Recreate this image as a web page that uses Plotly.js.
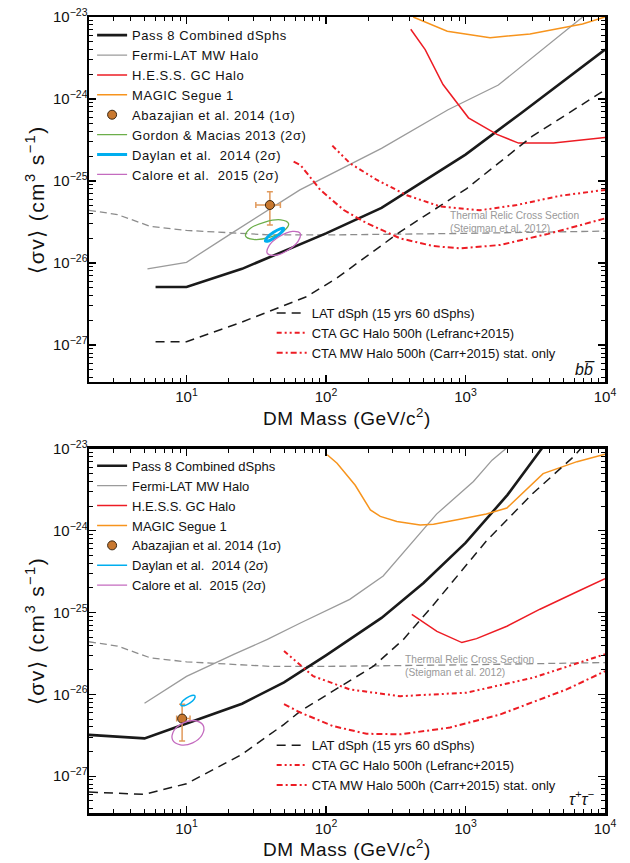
<!DOCTYPE html>
<html><head><meta charset="utf-8">
<script src="https://cdn.plot.ly/plotly-3.0.1.min.js"></script>
<style>
html,body{margin:0;padding:0;background:#fff;}
.legendtext{letter-spacing:0.55px;}
.xtitle,.x2title{letter-spacing:0.6px;}
.ytitle,.y2title{letter-spacing:1.4px;}
</style>
</head><body><div id="chart" style="width:630px;height:863px;"></div>
<script>
// ---------- axis tick labels ----------
const xTickVals = [10, 100, 1000, 10000];
const xTickText = ['10<sup>1</sup>', '10<sup>2</sup>', '10<sup>3</sup>', '10<sup>4</sup>'];
const yTickVals = [1e-27, 1e-26, 1e-25, 1e-24, 1e-23];
const yTickText = ['10<sup>−27</sup>', '10<sup>−26</sup>', '10<sup>−25</sup>', '10<sup>−24</sup>', '10<sup>−23</sup>'];

// ---------- thermal relic (both panels) ----------
const relicMass = [2, 3.2, 5.5, 10, 40, 100, 1000, 10000];
const relicSv   = [4.4e-26, 3.9e-26, 2.8e-26, 2.5e-26, 2.2e-26, 2.2e-26, 2.3e-26, 2.45e-26];

// ---------- b bbar panel ----------
const bbPass8Mass = [6, 10, 25, 50, 100, 250, 500, 1000, 2500, 5000, 10000];
const bbPass8Sv   = [5.1e-27, 5.1e-27, 8.5e-27, 1.4e-26, 2.3e-26, 4.7e-26, 1.0e-25, 2.1e-25, 6.7e-25, 1.65e-24, 4.0e-24];
const bbMWMass = [5.25, 10, 21, 65, 250, 750, 1720, 6900, 10000];
const bbMWSv   = [8.5e-27, 1.02e-26, 2.3e-26, 7.8e-26, 2.5e-25, 7.4e-25, 1.48e-24, 1.0e-23, 1.66e-23];
const bbHessMass = [405, 514, 690, 1050, 1680, 2400, 4270, 10000];
const bbHessSv   = [7.1e-24, 4.0e-24, 1.5e-24, 5.9e-25, 3.7e-25, 2.9e-25, 2.9e-25, 3.4e-25];
const bbMagicMass = [422, 740, 1500, 2900, 6900, 10000];
const bbMagicSv   = [1.0e-23, 6.7e-24, 5.6e-24, 6.2e-24, 8.2e-24, 1.0e-23];
const bbLatMass = [6, 10, 24, 73, 120, 340, 1020, 3000, 10000];
const bbLatSv   = [1.1e-27, 1.1e-27, 1.86e-27, 3.9e-27, 6.6e-27, 2.4e-26, 8.1e-26, 3.5e-25, 1.29e-24];
const bbCtaGCMass = [111, 149, 232, 380, 658, 1270, 2330, 4750, 10000];
const bbCtaGCSv   = [2.7e-25, 1.64e-25, 1.03e-25, 6.7e-26, 4.9e-26, 4.4e-26, 5.1e-26, 6.6e-26, 7.8e-26];
const bbCtaMWMass = [58.6, 65.5, 91, 134, 197, 340, 589, 914, 1770, 4040, 10000];
const bbCtaMWSv   = [1.72e-25, 1.57e-25, 7.8e-26, 4.43e-26, 3.05e-26, 2.0e-26, 1.61e-26, 1.51e-26, 1.66e-26, 2.3e-26, 3.5e-26];
const bbAbaMass = [39.6], bbAbaSv = [5.1e-26];
const bbAbaMassErrMinus = [8.2], bbAbaMassErrPlus = [7.5];
const bbAbaSvErrMinus = [2.2e-26], bbAbaSvErrPlus = [2.3e-26];
const bbGordonMass = [53.9, 50.0, 39.2, 30.2, 26.5, 28.6, 36.5, 47.4, 53.9];
const bbGordonSv   = [3.03e-26, 2.47e-26, 2.05e-26, 1.94e-26, 2.14e-26, 2.63e-26, 3.16e-26, 3.36e-26, 3.03e-26];
const bbDaylanMass = [49.8, 48.4, 43.8, 39.1, 36.8, 37.8, 41.8, 46.9, 49.8];
const bbDaylanSv   = [2.64e-26, 2.41e-26, 2.09e-26, 1.87e-26, 1.85e-26, 2.04e-26, 2.35e-26, 2.61e-26, 2.64e-26];
const bbCaloreMass = [65.3, 63.2, 53.2, 43.0, 37.9, 39.1, 46.4, 57.5, 65.3];
const bbCaloreSv   = [2.30e-26, 1.85e-26, 1.43e-26, 1.24e-26, 1.32e-26, 1.63e-26, 2.11e-26, 2.43e-26, 2.30e-26];

// ---------- tau tau panel ----------
const ttPass8Mass = [2, 5, 10, 25, 50, 100, 250, 500, 1000, 2000, 3500, 5000];
const ttPass8Sv   = [3.2e-27, 2.9e-27, 4.4e-27, 7.7e-27, 1.4e-26, 3.0e-26, 8.6e-26, 2.3e-25, 7.1e-25, 2.75e-24, 1.0e-23, 2.2e-23];
const ttMWMass = [5, 10, 22, 38, 65, 99, 148, 257, 620, 1140, 1550, 2000];
const ttMWSv   = [7.8e-27, 1.66e-26, 3.1e-26, 4.7e-26, 7.4e-26, 1.04e-25, 1.45e-25, 2.8e-25, 1.6e-24, 4.0e-24, 7.3e-24, 1.05e-23];
const ttHessMass = [412, 624, 942, 1200, 1980, 3420, 6300, 10000];
const ttHessSv   = [9.5e-26, 5.9e-26, 4.3e-26, 4.8e-26, 6.8e-26, 1.1e-25, 1.8e-25, 2.6e-25];
const ttMagicMass = [102, 120, 162, 181, 208, 245, 322, 473, 590, 910, 1410, 1980, 3600, 6300, 10000];
const ttMagicSv   = [8.5e-24, 6.7e-24, 3.6e-24, 2.6e-24, 1.8e-24, 1.5e-24, 1.3e-24, 1.18e-24, 1.2e-24, 1.38e-24, 1.6e-24, 1.9e-24, 5.0e-24, 7.0e-24, 8.6e-24];
const ttLatMass = [2, 5, 10, 25, 50, 65.5, 219, 359, 590, 1410, 3060, 5930, 7000];
const ttLatSv   = [6.4e-28, 6.0e-28, 8.1e-28, 1.85e-27, 4.3e-27, 6.25e-27, 2.21e-26, 4.7e-26, 1.25e-25, 7.5e-25, 2.9e-24, 8.0e-24, 1.1e-23];
const ttCtaGCMass = [50, 81, 148, 340, 1020, 3060, 10000];
const ttCtaGCSv   = [3.4e-26, 1.67e-26, 1.15e-26, 9.5e-27, 1.05e-26, 1.6e-26, 3.1e-26];
const ttCtaMWMass = [50, 65.5, 112, 195, 340, 775, 1780, 5300, 10000];
const ttCtaMWSv   = [7.6e-27, 6.0e-27, 4.1e-27, 3.3e-27, 3.25e-27, 3.93e-27, 5.7e-27, 1.15e-26, 1.92e-26];
const ttAbaMass = [9.3], ttAbaSv = [5.06e-27];
const ttAbaMassErrMinus = [0.8], ttAbaMassErrPlus = [1.3];
const ttAbaSvErrMinus = [2.36e-27], ttAbaSvErrPlus = [2.54e-27];
const ttDaylanMass = [11.5, 11.35, 10.54, 9.63, 9.12, 9.26, 9.97, 10.9, 11.5];
const ttDaylanSv   = [9.6e-27, 8.77e-27, 7.84e-27, 7.28e-27, 7.36e-27, 8.04e-27, 9.0e-27, 9.7e-27, 9.6e-27];
const ttCaloreMass = [13.2, 12.95, 11.08, 9.04, 7.95, 8.11, 9.5, 11.62, 13.2];
const ttCaloreSv   = [4.15e-27, 3.21e-27, 2.56e-27, 2.42e-27, 2.77e-27, 3.59e-27, 4.49e-27, 4.76e-27, 4.15e-27];

// ---------- styles ----------
const C = {
  black:'#1a1a1a', gray:'#9b9b9b', red:'#ed1c24', orange:'#f7941d',
  green:'#6cae4a', cyan:'#00aeef', purple:'#c46bbf', relic:'#8c8c8c',
  abaFill:'#c8782f', abaErr:'#e19a5c'
};
const NAMES = {
  pass8:'Pass 8 Combined dSphs', mw:'Fermi-LAT MW Halo', hess:'H.E.S.S. GC Halo',
  magic:'MAGIC Segue 1', aba:'Abazajian et al. 2014 (1σ)', gordon:'Gordon &amp; Macias 2013 (2σ)',
  daylan:'Daylan et al.\u00a0 2014 (2σ)', calore:'Calore et al.\u00a0 2015 (2σ)',
  lat:'LAT dSph (15 yrs 60 dSphs)', ctagc:'CTA GC Halo 500h (Lefranc+2015)',
  ctamw:'CTA MW Halo 500h (Carr+2015) stat. only'
};
const GC_DASH = '5px,3px,2px,3px,2px,3px';
const MW_DASH = '6px,3px,2px,3px';

function line(x, y, name, color, width, dash, xa, ya, leg, show) {
  return {
    type:'scatter', mode:'lines', x:x, y:y, name:name,
    line:{color:color, width:width, dash:dash || 'solid'},
    xaxis:xa, yaxis:ya, legend:leg, showlegend:show, hoverinfo:'skip'
  };
}
function aba(x, y, xm, xp, ym, yp, xa, ya, leg) {
  return {
    type:'scatter', mode:'markers', x:x, y:y, name:NAMES.aba, xaxis:xa, yaxis:ya, legend:leg,
    marker:{size:9, color:C.abaFill, line:{color:'#3b2712', width:1}},
    error_x:{type:'data', symmetric:false, array:xp, arrayminus:xm, color:C.abaErr, thickness:1.5, width:3},
    error_y:{type:'data', symmetric:false, array:yp, arrayminus:ym, color:C.abaErr, thickness:1.5, width:3},
    hoverinfo:'skip'
  };
}
function ell(x, y, name, color, width, xa, ya, leg, show) {
  const t = line(x, y, name, color, width, 'solid', xa, ya, leg, show);
  t.line.shape = 'spline'; t.line.smoothing = 1.2;
  return t;
}

const data = [
  // top panel (b bbar)
  line(relicMass, relicSv, 'relic', C.relic, 1.3, '7px,4px', 'x', 'y', 'legend', false),
  line(bbPass8Mass, bbPass8Sv, NAMES.pass8, C.black, 2.6, 'solid', 'x', 'y', 'legend', true),
  line(bbMWMass, bbMWSv, NAMES.mw, C.gray, 1.3, 'solid', 'x', 'y', 'legend', true),
  line(bbHessMass, bbHessSv, NAMES.hess, C.red, 1.5, 'solid', 'x', 'y', 'legend', true),
  line(bbMagicMass, bbMagicSv, NAMES.magic, C.orange, 1.5, 'solid', 'x', 'y', 'legend', true),
  aba(bbAbaMass, bbAbaSv, bbAbaMassErrMinus, bbAbaMassErrPlus, bbAbaSvErrMinus, bbAbaSvErrPlus, 'x', 'y', 'legend'),
  ell(bbGordonMass, bbGordonSv, NAMES.gordon, C.green, 1.3, 'x', 'y', 'legend', true),
  ell(bbDaylanMass, bbDaylanSv, NAMES.daylan, C.cyan, 3, 'x', 'y', 'legend', true),
  ell(bbCaloreMass, bbCaloreSv, NAMES.calore, C.purple, 1.3, 'x', 'y', 'legend', true),
  line(bbLatMass, bbLatSv, NAMES.lat, C.black, 1.5, '9px,6px', 'x', 'y', 'legend2', true),
  line(bbCtaGCMass, bbCtaGCSv, NAMES.ctagc, C.red, 2, GC_DASH, 'x', 'y', 'legend2', true),
  line(bbCtaMWMass, bbCtaMWSv, NAMES.ctamw, C.red, 2, MW_DASH, 'x', 'y', 'legend2', true),
  // bottom panel (tau tau)
  line(relicMass, relicSv, 'relic', C.relic, 1.3, '7px,4px', 'x2', 'y2', 'legend3', false),
  line(ttPass8Mass, ttPass8Sv, NAMES.pass8, C.black, 2.6, 'solid', 'x2', 'y2', 'legend3', true),
  line(ttMWMass, ttMWSv, NAMES.mw, C.gray, 1.3, 'solid', 'x2', 'y2', 'legend3', true),
  line(ttHessMass, ttHessSv, NAMES.hess, C.red, 1.5, 'solid', 'x2', 'y2', 'legend3', true),
  line(ttMagicMass, ttMagicSv, NAMES.magic, C.orange, 1.5, 'solid', 'x2', 'y2', 'legend3', true),
  aba(ttAbaMass, ttAbaSv, ttAbaMassErrMinus, ttAbaMassErrPlus, ttAbaSvErrMinus, ttAbaSvErrPlus, 'x2', 'y2', 'legend3'),
  ell(ttDaylanMass, ttDaylanSv, NAMES.daylan, C.cyan, 1.5, 'x2', 'y2', 'legend3', true),
  ell(ttCaloreMass, ttCaloreSv, NAMES.calore, C.purple, 1.3, 'x2', 'y2', 'legend3', true),
  line(ttLatMass, ttLatSv, NAMES.lat, C.black, 1.5, '9px,6px', 'x2', 'y2', 'legend4', true),
  line(ttCtaGCMass, ttCtaGCSv, NAMES.ctagc, C.red, 2, GC_DASH, 'x2', 'y2', 'legend4', true),
  line(ttCtaMWMass, ttCtaMWSv, NAMES.ctamw, C.red, 2, MW_DASH, 'x2', 'y2', 'legend4', true)
];

const FONT = 'Liberation Sans, Arial, Helvetica, sans-serif';
function xax(anchor) {
  return {
    type:'log', range:[Math.log10(2), 4], anchor:anchor,
    tickmode:'array', tickvals:xTickVals, ticktext:xTickText,
    ticks:'inside', ticklen:7, tickwidth:1.2, tickcolor:'#000',
    minor:{dtick:'D1', ticks:'inside', ticklen:4, tickwidth:1, tickcolor:'#000', showgrid:false},
    showline:true, linewidth:2.5, linecolor:'#000', mirror:'allticks',
    showgrid:false, zeroline:false,
    tickfont:{size:15, color:'#111', family:FONT},
    title:{text:'DM Mass (GeV/c<sup>2</sup>)', font:{size:19, color:'#111', family:FONT}, standoff:5}
  };
}
function yax(anchor, domain) {
  return {
    type:'log', range:[-27.45, -23], anchor:anchor, domain:domain,
    tickmode:'array', tickvals:yTickVals, ticktext:yTickText,
    ticks:'inside', ticklen:7, tickwidth:1.2, tickcolor:'#000', ticklabelstandoff:-4,
    minor:{dtick:'D1', ticks:'inside', ticklen:4, tickwidth:1, tickcolor:'#000', showgrid:false},
    showline:true, linewidth:2.5, linecolor:'#000', mirror:'allticks',
    showgrid:false, zeroline:false,
    tickfont:{size:15, color:'#111', family:FONT},
    title:{text:'⟨σv⟩ (cm<sup>3</sup> s<sup>−1</sup>)', font:{size:21, color:'#111', family:FONT}, standoff:3}
  };
}
function leg(x, y) {
  return {x:x, y:y, xanchor:'left', yanchor:'top', bgcolor:'rgba(0,0,0,0)', borderwidth:0,
          font:{size:13, color:'#111', family:FONT}, tracegroupgap:0, itemwidth:30};
}
const relicText = 'Thermal Relic Cross Section<br>(Steigman et al. 2012)';
const layout = {
  width:630, height:863,
  margin:{l:89, r:25, t:17, b:50},
  paper_bgcolor:'#fff', plot_bgcolor:'#fff',
  font:{family:FONT, color:'#111'},
  xaxis:xax('y'), yaxis:yax('x', [0.5415, 1]),
  xaxis2:xax('y2'), yaxis2:yax('x2', [0, 0.4573]),
  legend:leg(0.006, 0.996),
  legend2:leg(0.354, 0.647),
  legend3:leg(0.006, 0.455),
  legend4:leg(0.354, 0.104),
  annotations:[
    {xref:'x domain', yref:'y domain', x:0.696, y:0.438, xanchor:'left', yanchor:'middle', align:'left',
     text:relicText, showarrow:false, font:{size:10.2, color:'#999', family:FONT}},
    {xref:'x2 domain', yref:'y2 domain', x:0.6085, y:0.404, xanchor:'left', yanchor:'middle', align:'left',
     text:relicText, showarrow:false, font:{size:10.2, color:'#999', family:FONT}},
    {xref:'x domain', yref:'y domain', x:0.985, y:0.035, xanchor:'right', yanchor:'middle',
     text:'<i>bb\u0305</i>', showarrow:false, font:{size:16, color:'#111', family:FONT}},
    {xref:'x2 domain', yref:'y2 domain', x:0.985, y:0.04, xanchor:'right', yanchor:'middle',
     text:'<i>τ<sup>+</sup>τ<sup>−</sup></i>', showarrow:false, font:{size:16, color:'#111', family:FONT}}
  ]
};
Plotly.newPlot('chart', data, layout, {staticPlot:true, displayModeBar:false});
</script></body></html>
